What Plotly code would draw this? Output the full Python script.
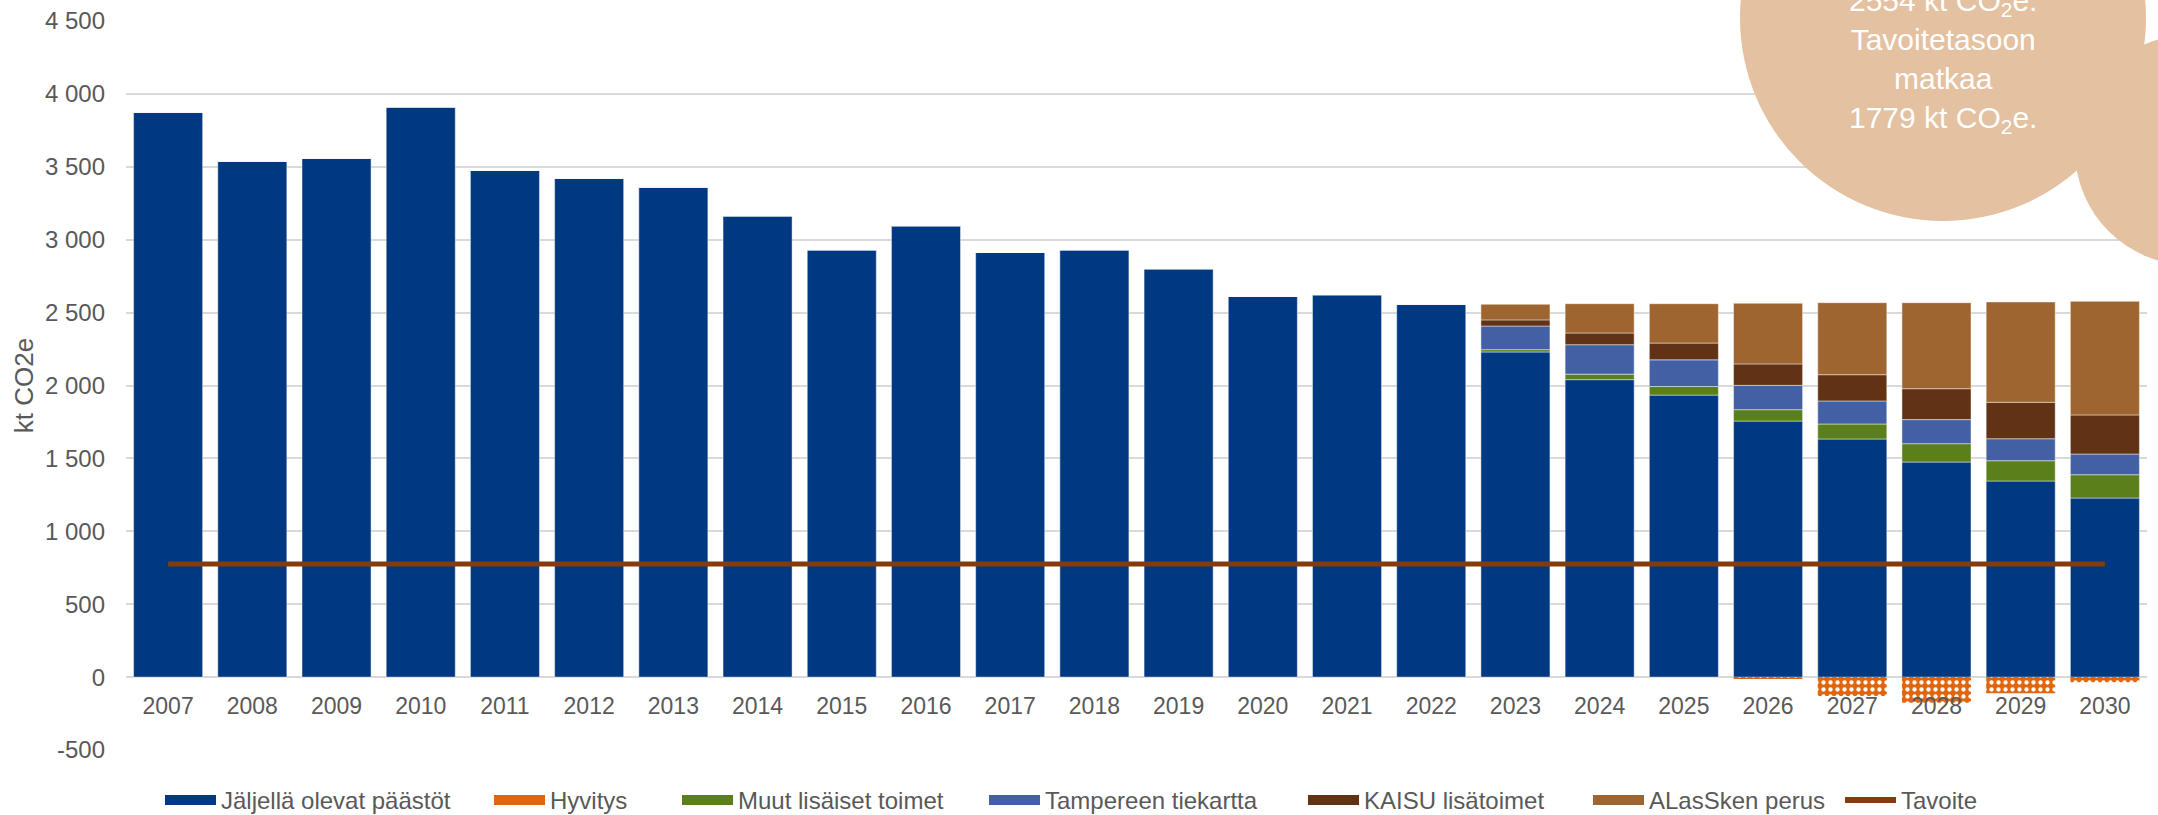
import plotly.graph_objects as go

# ---------------- data ----------------
years = [str(y) for y in range(2007, 2031)]

jaljella = [3875, 3539, 3559, 3911, 3477, 3422, 3361, 3164, 2931, 3096, 2913, 2931,
            2801, 2611, 2623, 2558, 2230, 2040, 1934, 1756, 1633, 1475, 1345, 1228]
hyvitys = [0, 0, 0, 0, 0, 0, 0, 0, 0, 0, 0, 0,
           0, 0, 0, 0, 0, 0, 0, -8, -130, -176, -110, -35]
muut = [0, 0, 0, 0, 0, 0, 0, 0, 0, 0, 0, 0,
        0, 0, 0, 0, 16, 38, 59, 78, 103, 126, 139, 160]
tampere = [0, 0, 0, 0, 0, 0, 0, 0, 0, 0, 0, 0,
           0, 0, 0, 0, 162, 202, 183, 167, 158, 165, 151, 142]
kaisu = [0, 0, 0, 0, 0, 0, 0, 0, 0, 0, 0, 0,
         0, 0, 0, 0, 42, 80, 115, 147, 180, 212, 250, 268]
alassken = [0, 0, 0, 0, 0, 0, 0, 0, 0, 0, 0, 0,
            0, 0, 0, 0, 107, 201, 270, 416, 494, 590, 688, 779]
tavoite = [775] * len(years)

series_names = ["Jäljellä olevat päästöt", "Hyvitys", "Muut lisäiset toimet",
                "Tampereen tiekartta", "KAISU lisätoimet", "ALasSken perus", "Tavoite"]

ytick_vals = [-500, 0, 500, 1000, 1500, 2000, 2500, 3000, 3500, 4000, 4500]
ytick_text = ["-500", "0", "500", "1 000", "1 500", "2 000", "2 500", "3 000",
              "3 500", "4 000", "4 500"]
y_range = [-500, 4500]

bubble_text = ("2554 kt CO<sub>2</sub>e.<br>Tavoitetasoon<br>matkaa<br>"
               "1779 kt CO<sub>2</sub>e.")

# ---------------- styling ----------------
C_BLUE = "#003882"
C_ORANGE = "#E0650C"
C_GREEN = "#5A7F1B"
C_TAMP = "#4460A5"
C_KAISU = "#613214"
C_ALAS = "#9E6530"
C_TAV = "#843C0C"
C_BUBBLE = "#E3C1A1"
FONT = "Liberation Sans, Arial, sans-serif"
GREY = "#595959"

W, H = 2158, 815
ML, MR, MT, MB = 126, 11, 21, 65
PW, PH = W - ML - MR, H - MT - MB

# legend swatch left edges (px) and vertical centre (px)
LEG_X = [164, 493, 681, 988, 1307, 1592, 1844]
LEG_Y = 800.5
LEG_OFF = 4


def fx(p):
    return (p - ML) / PW


def fy(p):
    return (H - MB - p) / PH


bar_line = dict(color="rgba(255,255,255,0.45)", width=1)

fig = go.Figure()
fig.add_trace(go.Bar(x=years, y=jaljella, name=series_names[0], marker=dict(color=C_BLUE, line=bar_line),
                     showlegend=False))
fig.add_trace(go.Bar(x=years, y=hyvitys, name=series_names[1],
                     marker=dict(color=C_ORANGE, line=dict(width=0),
                                 pattern=dict(shape=".", fgcolor="white", bgcolor=C_ORANGE,
                                              size=7, solidity=0.3, fillmode="replace")),
                     showlegend=False))
fig.add_trace(go.Bar(x=years, y=muut, name=series_names[2], marker=dict(color=C_GREEN, line=bar_line),
                     showlegend=False))
fig.add_trace(go.Bar(x=years, y=tampere, name=series_names[3], marker=dict(color=C_TAMP, line=bar_line),
                     showlegend=False))
fig.add_trace(go.Bar(x=years, y=kaisu, name=series_names[4], marker=dict(color=C_KAISU, line=bar_line),
                     showlegend=False))
fig.add_trace(go.Bar(x=years, y=alassken, name=series_names[5], marker=dict(color=C_ALAS, line=bar_line),
                     showlegend=False))
fig.add_trace(go.Scatter(x=years, y=tavoite, name=series_names[6], mode="lines",
                         line=dict(color=C_TAV, width=5), showlegend=False))

# legend entries (wide swatches like the original), one legend box per entry
legend_colors = [C_BLUE, C_ORANGE, C_GREEN, C_TAMP, C_KAISU, C_ALAS, C_TAV]
legend_widths = [13, 13, 13, 13, 13, 13, 6]
legend_layouts = {}
for i, (nm, col, lw) in enumerate(zip(series_names, legend_colors, legend_widths)):
    lid = "legend" if i == 0 else f"legend{i + 1}"
    fig.add_trace(go.Scatter(x=[None], y=[None], name=nm, mode="lines",
                             line=dict(color=col, width=lw), showlegend=True, legend=lid))
    legend_layouts[lid] = dict(
        orientation="h", xref="container", yref="container",
        x=(LEG_X[i] - LEG_OFF) / W, xanchor="left", y=(H - LEG_Y) / H, yanchor="middle",
        font=dict(family=FONT, size=24, color=GREY), itemwidth=51,
        bgcolor="rgba(0,0,0,0)", borderwidth=0)

# thought bubble shapes
fig.add_shape(type="circle", xref="paper", yref="paper",
              x0=fx(1740), x1=fx(2146), y0=fy(221), y1=fy(-185),
              fillcolor=C_BUBBLE, line=dict(width=0), layer="above")
fig.add_shape(type="circle", xref="paper", yref="paper",
              x0=fx(2075), x1=fx(2305), y0=fy(265), y1=fy(35),
              fillcolor=C_BUBBLE, line=dict(width=0), layer="above")
fig.add_annotation(xref="paper", yref="paper", x=fx(1943), y=fy(140), xanchor="center",
                   yanchor="bottom", text=bubble_text, showarrow=False, align="center",
                   font=dict(family=FONT, size=30, color="white"))

zero_pos = (0 - y_range[0]) / (y_range[1] - y_range[0])

fig.update_layout(
    width=W, height=H,
    margin=dict(l=ML, r=MR, t=MT, b=MB, autoexpand=False),
    paper_bgcolor="white", plot_bgcolor="white",
    barmode="relative", bargap=0.18,
    font=dict(family=FONT, size=23, color=GREY),
    xaxis=dict(type="category", anchor="free", position=zero_pos, showgrid=False,
               showline=False, ticks="", tickfont=dict(size=23, color=GREY),
               ticklabelstandoff=13, automargin=False),
    yaxis=dict(range=y_range, tickvals=ytick_vals, ticktext=ytick_text, showgrid=True,
               gridcolor="#D9D9D9", gridwidth=1.5, zeroline=False, showline=False, ticks="",
               tickfont=dict(size=24, color=GREY), ticklabelstandoff=20, automargin=False,
               title=dict(text="kt CO2e", font=dict(size=26, color=GREY), standoff=3)),
    **legend_layouts,
)

fig.write_html("out.html", config={"displayModeBar": False},
               post_script="document.body.style.margin='0';document.body.style.overflow='hidden';")
